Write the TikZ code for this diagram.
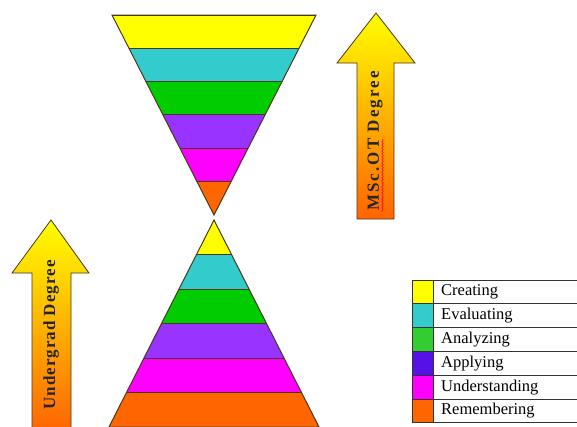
\documentclass[tikz,border=0pt]{standalone}
\usepackage{fontspec}
\setmainfont{Liberation Serif}
\newfontfamily\degreefont[LetterSpace=6]{Liberation Serif}
\newfontfamily\mscfont[LetterSpace=12]{Liberation Serif}
\usetikzlibrary{decorations.pathmorphing}
\definecolor{bloomyellow}{RGB}{255,255,0}
\definecolor{bloomteal}{RGB}{51,204,204}
\definecolor{bloomgreen}{RGB}{0,204,0}
\definecolor{bloompurple}{RGB}{153,51,255}
\definecolor{bloommagenta}{RGB}{255,0,255}
\definecolor{bloomorange}{RGB}{255,102,0}
\definecolor{legendgreen}{RGB}{51,204,51}
\definecolor{legendviolet}{RGB}{85,17,232}
\definecolor{edgebrown}{RGB}{75,55,30}
\definecolor{arroworange}{RGB}{255,100,0}
\tikzset{
  bandline/.style={draw=edgebrown,line width=1pt},
  degreearrow/.style={draw=edgebrown,line width=0.8pt,top color=bloomyellow,bottom color=arroworange},
  degreelabel/.style={rotate=90,font=\degreefont\bfseries\fontsize{17}{19}\selectfont,text=black!85,inner sep=0pt},
  legendtext/.style={anchor=west,font=\fontsize{16.5}{18}\selectfont,inner sep=0pt},
  legendline/.style={draw=black!80,line width=0.9pt}
}
\begin{document}
\begin{tikzpicture}[x=1pt,y=-1pt]
  \useasboundingbox (0,0) rectangle (577,426);
  \clip (0,0) rectangle (577,426);
  \begin{scope}
    \clip (112,15) -- (316,15) -- (214,215) -- cycle;
    \foreach \col [count=\i from 0] in {bloomyellow,bloomteal,bloomgreen,bloompurple,bloommagenta,bloomorange} {
      \fill[\col] (100,{15+33.33*\i}) rectangle (330,{15+33.33*(\i+1)});
      \draw[bandline] (100,{15+33.33*\i}) -- (330,{15+33.33*\i});
    }
  \end{scope}
  \draw[bandline,line join=miter] (112,15) -- (316,15) -- (214,215) -- cycle;
  \begin{scope}
    \clip (214,220) -- (319,427) -- (109,427) -- cycle;
    \foreach \col [count=\i from 0] in {bloomyellow,bloomteal,bloomgreen,bloompurple,bloommagenta,bloomorange} {
      \fill[\col] (100,{220+34.5*\i}) rectangle (330,{220+34.5*(\i+1)});
      \draw[bandline] (100,{220+34.5*\i}) -- (330,{220+34.5*\i});
    }
  \end{scope}
  \draw[bandline] (214,220) -- (319,427) -- (109,427) -- cycle;
  \draw[degreearrow] (51,220) -- (89,273) -- (71,273) -- (71,432) -- (32,432) -- (32,273) -- (12,273) -- cycle;
  \draw[degreearrow] (376,13) -- (415,63) -- (394,63) -- (394,219) -- (357,219) -- (357,63) -- (337,63) -- cycle;
  \node[degreelabel] (undergrad) at (51,335) {Undergrad Degree};
  \node[degreelabel,font=\mscfont\bfseries\fontsize{17}{19}\selectfont] (msc) at (375,141) {MSc.OT Degree};
  \draw[red,line width=0.5pt,decorate,decoration={snake,amplitude=0.8pt,segment length=3pt}] (382.5,212) -- (382.5,139);
  \foreach \name/\col [count=\i from 0] in {Creating/bloomyellow,Evaluating/bloomteal,Analyzing/legendgreen,Applying/legendviolet,Understanding/bloommagenta,Remembering/bloomorange} {
    \fill[\col] (412,{280+23.8*\i}) rectangle (433,{280+23.8*(\i+1)});
    \node[legendtext] (legend\i) at (441,{280+23.8*\i+12}) {\name};
    \draw[legendline] (412,{280+23.8*\i}) -- (590,{280+23.8*\i});
  }
  \draw[legendline] (412,280) rectangle (590,422.8);
  \draw[legendline] (433,280) -- (433,422.8);
\end{tikzpicture}
\end{document}
